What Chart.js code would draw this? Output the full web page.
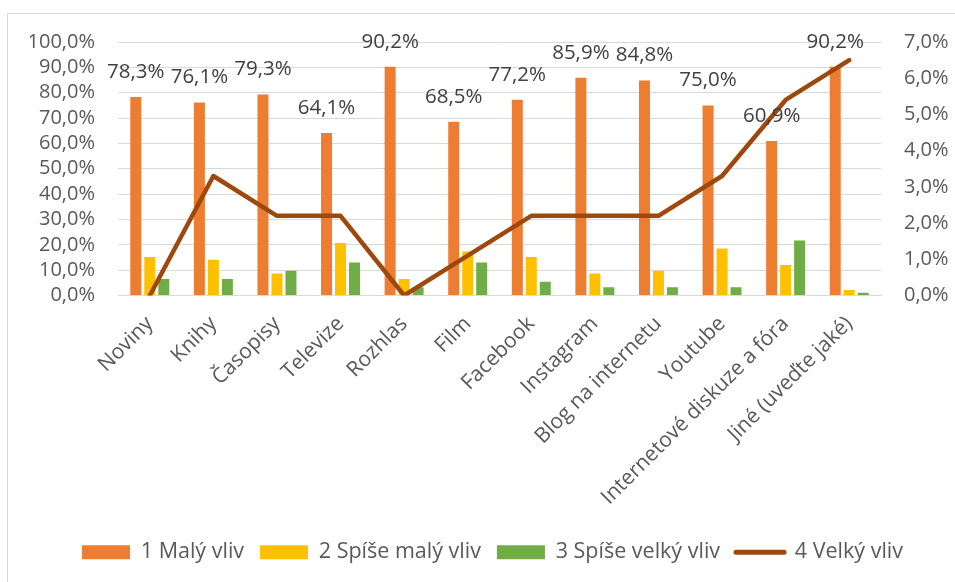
<!DOCTYPE html>
<html><head><meta charset="utf-8">
<script src="https://cdn.jsdelivr.net/npm/chart.js@4.4.0/dist/chart.umd.min.js"></script>
<style>html,body{margin:0;padding:0;background:#fff;overflow:hidden}#wrap{position:relative;width:955px;height:582px}</style>
</head><body><div id="wrap"><canvas id="c" width="955" height="582"></canvas></div>
<script>
const categories = ['Noviny','Knihy','Časopisy','Televize','Rozhlas','Film','Facebook','Instagram','Blog na internetu','Youtube','Internetové diskuze a fóra','Jiné (uveďte jaké)'];
const seriesNames = ['1 Malý vliv','2 Spíše malý vliv','3 Spíše velký vliv','4 Velký vliv'];
const maly = [78.3,76.1,79.3,64.1,90.2,68.5,77.2,85.9,84.8,75.0,60.9,90.2];
const spiseMaly = [15.2,14.1,8.7,20.7,6.5,17.4,15.2,8.7,9.8,18.5,12.0,2.2];
const spiseVelky = [6.5,6.5,9.8,13.0,3.3,13.0,5.4,3.3,3.3,3.3,21.7,1.1];
const velky = [0.0,3.3,2.2,2.2,0.0,1.1,2.2,2.2,2.2,3.3,5.4,6.5];
const leftAxis = {min:0, max:100, step:10};
const rightAxis = {min:0, max:7, step:1};

const FONT = '"Open Sans", "DejaVu Sans", sans-serif';
const fmt = v => Number(v).toFixed(1).replace('.', ',') + '%';

const borderPlugin = {
  id: 'outerBorder',
  beforeDraw(chart) {
    const ctx = chart.ctx;
    ctx.save();
    ctx.fillStyle = '#fff';
    ctx.fillRect(0, 0, chart.width, chart.height);
    ctx.strokeStyle = '#D9D9D9';
    ctx.lineWidth = 1;
    ctx.strokeRect(7.5, 13.5, 2000, 2000);
    ctx.restore();
  }
};
const dataLabelPlugin = {
  id: 'barLabels',
  afterDatasetsDraw(chart) {
    const ctx = chart.ctx;
    const meta = chart.getDatasetMeta(0);
    ctx.save();
    ctx.font = '20.5px ' + FONT;
    ctx.fillStyle = '#404040';
    ctx.textAlign = 'center';
    ctx.textBaseline = 'middle';
    meta.data.forEach((bar, i) => {
      ctx.fillText(fmt(maly[i]), bar.x, bar.y - 25);
    });
    ctx.restore();
  }
};

const barCommon = {type:'bar', yAxisID:'y', categoryPercentage:0.66, barPercentage:0.786, order:1, borderWidth:0};
new Chart(document.getElementById('c'), {
  data: {
    labels: categories,
    datasets: [
      Object.assign({label: seriesNames[0], data: maly, backgroundColor:'#ED7D31'}, barCommon),
      Object.assign({label: seriesNames[1], data: spiseMaly, backgroundColor:'#FFC000'}, barCommon),
      Object.assign({label: seriesNames[2], data: spiseVelky, backgroundColor:'#70AD47'}, barCommon),
      {type:'line', label: seriesNames[3], data: velky, yAxisID:'y1', borderColor:'#9E480E', backgroundColor:'#9E480E',
       borderWidth:4.5, tension:0, pointRadius:0, pointHoverRadius:0, borderCapStyle:'round', borderJoinStyle:'round', fill:false, order:0}
    ]
  },
  options: {
    responsive:false, animation:false, devicePixelRatio:1,
    layout:{padding:{top:42, left:30, right:0, bottom:9}},
    plugins:{
      tooltip:{enabled:false},
      legend:{
        position:'bottom',
        labels:{
          font:{size:21.5, family:FONT}, color:'#595959', usePointStyle:true, pointStyleWidth:48, boxHeight:14, padding:16,
          sort:(a,b)=>a.datasetIndex-b.datasetIndex,
          generateLabels(chart){
            const items = Chart.defaults.plugins.legend.labels.generateLabels(chart);
            items.forEach(it=>{
              const ds = chart.data.datasets[it.datasetIndex];
              if (ds.type === 'line') { it.pointStyle='line'; it.lineWidth=5; it.strokeStyle=ds.borderColor; it.lineCap='round'; }
              else { it.pointStyle='rect'; it.lineWidth=0; it.fillStyle=ds.backgroundColor; it.strokeStyle=ds.backgroundColor; }
            });
            return items;
          }
        }
      }
    },
    scales:{
      x:{
        offset:true,
        grid:{display:false},
        border:{display:true, color:'#D9D9D9'},
        ticks:{font:{size:21, family:FONT}, color:'#595959', minRotation:45, maxRotation:45, autoSkip:false, padding:8},
        afterFit(s){ s.height = 230; }
      },
      y:{
        position:'left', min:leftAxis.min, max:leftAxis.max,
        grid:{color:'#D9D9D9', drawTicks:false},
        border:{display:false},
        ticks:{stepSize:leftAxis.step, autoSkip:false, callback:v=>fmt(v), font:{size:20, family:FONT}, color:'#595959', padding:23},
        afterFit(s){ s.width = 88; }
      },
      y1:{
        position:'right', min:rightAxis.min, max:rightAxis.max,
        grid:{display:false, drawTicks:false},
        border:{display:false},
        ticks:{stepSize:rightAxis.step, autoSkip:false, callback:v=>fmt(v), font:{size:20, family:FONT}, color:'#595959', padding:23},
        afterFit(s){ s.width = 74; }
      }
    }
  },
  plugins:[borderPlugin, dataLabelPlugin]
});
</script></body></html>
